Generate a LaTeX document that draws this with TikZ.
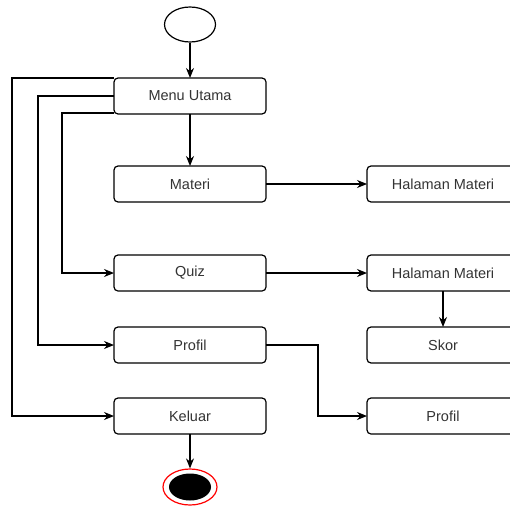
\documentclass[tikz,border=0pt]{standalone}
\usepackage{fontspec}
\setmainfont{Liberation Sans}
\usetikzlibrary{arrows.meta,shapes.geometric}
\tikzset{
  menubox/.style={draw, line width=1.2pt, rounded corners=4pt, minimum width=152pt, minimum height=36pt,
    inner sep=0pt, outer sep=0pt, font=\fontsize{14.5}{16}\selectfont, text=black!80},
  flow/.style={-{Stealth[length=10pt,width=8pt]}, line width=1.3pt}
}
\begin{document}
\begin{tikzpicture}[x=1pt,y=-1pt]
\useasboundingbox (0,0) rectangle (510,508);
% draw start and end states
\node[draw, line width=1.2pt, ellipse, minimum width=51pt, minimum height=35pt, inner sep=0pt] (start) at (190,24.5) {};
\node[draw=red, line width=1.2pt, ellipse, minimum width=54pt, minimum height=36pt, inner sep=0pt] (finish) at (190,487) {};
\fill (finish.center) ellipse [x radius=21pt, y radius=13.5pt];

% draw menu boxes on the left
\node[menubox] (utama) at (190,96) {Menu Utama};
\node[menubox] (materi) at (190,184) {Materi};
\node[menubox] (quiz) at (190,273) {Quiz};
\node[menubox] (profil) at (190,345) {Profil};
\node[menubox] (keluar) at (190,416) {Keluar};

% draw page boxes on the right
\node[menubox] (halmateri) at (443,184) {Halaman Materi};
\node[menubox] (halquiz) at (443,273) {Halaman Materi};
\node[menubox] (skor) at (443,345) {Skor};
\node[menubox] (halprofil) at (443,416) {Profil};

% draw arrows down the middle
\draw[flow] (start) -- (utama);
\draw[flow] (utama) -- (materi);
\draw[flow] (keluar) -- (finish);
\draw[flow] (halquiz) -- (skor);

% draw arrows to the right
\draw[flow] (materi) -- (halmateri);
\draw[flow] (quiz) -- (halquiz);
\draw[flow] (profil.east) -| (318,380) |- (halprofil.west);

% draw lines back from the menu
\draw[flow] (utama.north west) -- ++(-102,0) |- (keluar.west);
\draw[flow] ([yshift=-18pt]utama.north west) -- ++(-76,0) |- (profil.west);
\draw[flow] ([yshift=1pt]utama.south west) -- ++(-52,0) |- (quiz.west);
\end{tikzpicture}
\end{document}
